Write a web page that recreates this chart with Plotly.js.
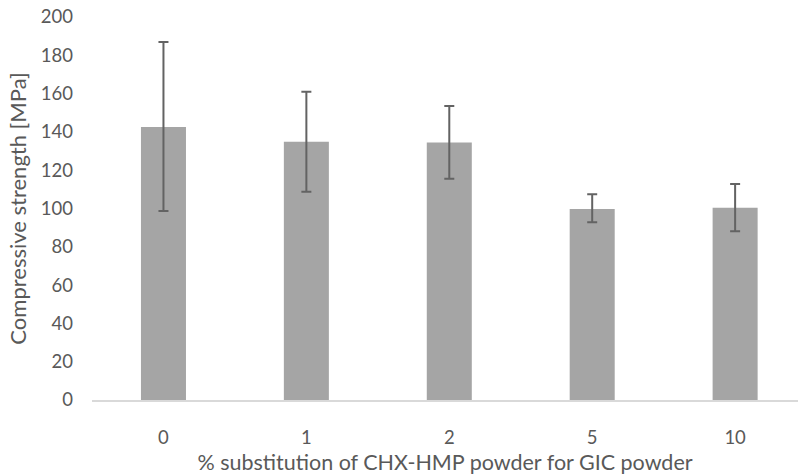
<!DOCTYPE html>
<html>
<head>
<meta charset="utf-8">
<script src="https://cdn.plot.ly/plotly-3.0.1.min.js"></script>
<style>html,body{margin:0;padding:0;background:#fff;}#chart{width:798px;height:475px;}</style>
</head>
<body>
<div id="chart"></div>
<script>
const categories = ["0", "1", "2", "5", "10"];
const strength = [142.6, 134.9, 134.4, 99.8, 100.4];
const errPlus = [44.4, 26.1, 19.1, 7.6, 12.4];
const errMinus = [43.9, 26.1, 18.8, 7.0, 12.3];

const trace = {
  type: "bar",
  x: categories,
  y: strength,
  marker: { color: "#a5a5a5" },
  error_y: {
    type: "data",
    symmetric: false,
    array: errPlus,
    arrayminus: errMinus,
    color: "#636363",
    thickness: 2,
    width: 5
  },
  hoverinfo: "none"
};

const font = { family: "Lato, 'Open Sans', sans-serif", color: "#595959" };

const layout = {
  width: 798,
  height: 475,
  margin: { l: 92, r: 0, t: 17, b: 75 },
  paper_bgcolor: "#fff",
  plot_bgcolor: "#fff",
  bargap: 0.685,
  showlegend: false,
  font: font,
  xaxis: {
    type: "category",
    range: [-0.5, 4.44],
    showline: true,
    linecolor: "#d9d9d9",
    linewidth: 1.5,
    showgrid: false,
    zeroline: false,
    ticks: "",
    ticklabelstandoff: 20,
    tickfont: { size: 18.5, family: font.family, color: "#595959" },
    title: { text: "% substitution of CHX-HMP powder for GIC powder", font: { size: 21.5, family: font.family, color: "#595959" }, standoff: 14 }
  },
  yaxis: {
    range: [0, 200],
    dtick: 20,
    showgrid: false,
    zeroline: false,
    showline: false,
    ticks: "",
    ticklabelstandoff: 18,
    tickfont: { size: 18.5, family: font.family, color: "#595959" },
    title: { text: "Compressive strength [MPa]", font: { size: 22, family: font.family, color: "#595959" }, standoff: 8 }
  }
};

Plotly.newPlot("chart", [trace], layout, { staticPlot: true, displayModeBar: false });
</script>
</body>
</html>
